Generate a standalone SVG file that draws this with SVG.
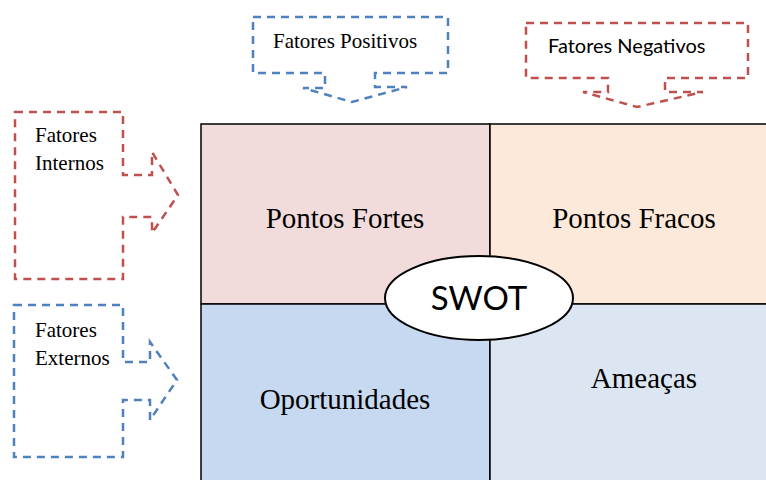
<svg xmlns="http://www.w3.org/2000/svg" width="766" height="480" viewBox="0 0 766 480">
<style>
.callout{fill:none;stroke-width:2.5;stroke-dasharray:8 6}
.red{stroke:#C0504D}
.blue{stroke:#4F81BD}
.cell{stroke:#000;stroke-width:1.5}
</style>
<rect width="766" height="480" fill="#fff"/>
<g id="quadrants" font-family="Liberation Serif, serif" font-size="29" text-anchor="middle" fill="#000">
<g id="pontos-fortes"><rect class="cell" x="201" y="124" width="289" height="180" fill="#F2DCDB"/><text x="345" y="228">Pontos Fortes</text></g>
<g id="pontos-fracos"><rect class="cell" x="490" y="124" width="280" height="180" fill="#FDE9D9"/><text x="634" y="228">Pontos Fracos</text></g>
<g id="oportunidades"><rect class="cell" x="201" y="304" width="289" height="180" fill="#C6D9F1"/><text x="345" y="409">Oportunidades</text></g>
<g id="ameacas"><rect class="cell" x="490" y="304" width="280" height="180" fill="#DCE6F2"/><text x="644" y="388">Ameaças</text></g>
</g>
<g id="swot"><ellipse cx="479" cy="298" rx="94" ry="42" fill="#fff" stroke="#000" stroke-width="2"/><text x="479" y="310" font-family="Lato, sans-serif" font-size="33" text-anchor="middle" fill="#000">SWOT</text></g>
<g id="fatores-positivos">
<path class="callout blue" d="M253,17 H448 V73 H375 V87 H407 L352,102 L303,88 H325 V73 H253 Z"/>
<text x="273" y="48" font-family="Liberation Serif, serif" font-size="21" fill="#000">Fatores Positivos</text>
</g>
<g id="fatores-negativos">
<path class="callout red" d="M526,23 H748 V78 H665 V92 H703 L637,107 L583,92 H608 V78 H526 Z"/>
<text x="548" y="53" font-family="Lato, sans-serif" font-size="20" fill="#000">Fatores Negativos</text>
</g>
<g id="fatores-internos" font-family="Liberation Serif, serif" font-size="21" fill="#000">
<path class="callout red" d="M15,112 H123 V175 H152 V152 L178,195 L152,233 V217 H123 V279 H15 Z"/>
<text x="35" y="142">Fatores</text>
<text x="35" y="170">Internos</text>
</g>
<g id="fatores-externos" font-family="Liberation Serif, serif" font-size="21" fill="#000">
<path class="callout blue" d="M14,305 H123 V362 H150 V342 L177,380 L150,420 V400 H123 V457 H14 Z"/>
<text x="35" y="337">Fatores</text>
<text x="35" y="365">Externos</text>
</g>
<g id="connectors"></g>
</svg>
